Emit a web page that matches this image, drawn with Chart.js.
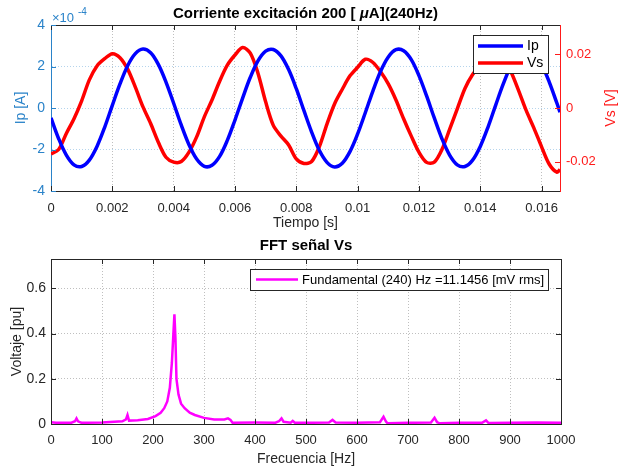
<!DOCTYPE html>
<html lang="es">
<head>
<meta charset="UTF-8">
<title>Corriente excitación 200 uA (240Hz)</title>
<script src="https://cdn.jsdelivr.net/npm/chart.js"></script>
<style>
  body { margin: 0; background: #fff; }
  #wrap { position: relative; width: 621px; height: 469px; }
  canvas { position: absolute; left: 0; }
</style>
</head>
<body>
<div id="wrap">
  <canvas id="senal" width="621" height="232" style="top:0"></canvas>
  <canvas id="fft" width="621" height="237" style="top:232px"></canvas>
</div>
<script>
// --- datos ---
const tiempo = [0, 0.00025, 0.0005, 0.00075, 0.001, 0.00125, 0.0015, 0.00175, 0.002, 0.00225,
  0.0025, 0.00275, 0.003, 0.00325, 0.0035, 0.00375, 0.004, 0.00425, 0.0045, 0.00475,
  0.005, 0.00525, 0.0055, 0.00575, 0.006, 0.00625, 0.0065, 0.00675, 0.007, 0.00725,
  0.0075, 0.00775, 0.008, 0.00825, 0.0085, 0.00875, 0.009, 0.00925, 0.0095, 0.00975,
  0.01, 0.01025, 0.0105, 0.01075, 0.011, 0.01125, 0.0115, 0.01175, 0.012, 0.01225,
  0.0125, 0.01275, 0.013, 0.01325, 0.0135, 0.01375, 0.014, 0.01425, 0.0145, 0.01475,
  0.015, 0.01525, 0.0155, 0.01575, 0.016, 0.01625, 0.0165, 0.0166];

// Ip en unidades de 1e-4 A
const ip = [-0.48, -1.48, -2.27, -2.74, -2.82, -2.51, -1.85, -0.93, 0.13, 1.16,
  2.04, 2.62, 2.84, 2.66, 2.10, 1.25, 0.23, -0.83, -1.77, -2.46,
  -2.81, -2.76, -2.33, -1.56, -0.58, 0.48, 1.48, 2.27, 2.74, 2.82,
  2.51, 1.85, 0.93, -0.13, -1.16, -2.04, -2.62, -2.84, -2.66, -2.10,
  -1.25, -0.23, 0.83, 1.77, 2.46, 2.81, 2.76, 2.33, 1.56, 0.58,
  -0.48, -1.48, -2.27, -2.74, -2.82, -2.51, -1.85, -0.93, 0.13, 1.16,
  2.04, 2.62, 2.84, 2.66, 2.10, 1.25, 0.23, -0.20];

// Vs en V
const vs = [-0.0172, -0.0155, -0.0095, -0.0040, 0.0027, 0.0105, 0.0157, 0.0184, 0.0203, 0.0188,
  0.0145, 0.0078, 0.0004, -0.0058, -0.0128, -0.0184, -0.0202, -0.0200, -0.0165, -0.0108,
  -0.0033, 0.0030, 0.0100, 0.0160, 0.0198, 0.0226, 0.0205, 0.0130, 0.0023, -0.0065,
  -0.0105, -0.0138, -0.0190, -0.0207, -0.0200, -0.0145, -0.0060, 0.0016, 0.0070, 0.0120,
  0.0152, 0.0182, 0.0170, 0.0135, 0.0090, 0.0030, -0.0040, -0.0105, -0.0165, -0.0203,
  -0.0202, -0.0155, -0.0080, -0.0003, 0.0073, 0.0125, 0.0160, 0.0200, 0.0215, 0.0185,
  0.0135, 0.0065, -0.0010, -0.0075, -0.0145, -0.0210, -0.0240, -0.0230];

const tiempoTicks = [0, 0.002, 0.004, 0.006, 0.008, 0.01, 0.012, 0.014, 0.016];
const ipTicks = [-4, -2, 0, 2, 4];
const vsTicks = [-0.02, 0, 0.02];

const frecuencia = [0, 10, 40, 47, 50, 53, 60, 100, 140, 147, 150, 153, 170, 190, 205, 215, 222, 228, 233, 237,
  240, 242, 244, 246, 250, 255, 262, 272, 282, 300, 320, 340, 347, 352, 356, 400, 440, 447, 452, 456,
  470, 474, 478, 500, 545, 552, 558, 600, 645, 652, 657, 660, 700, 745, 752, 757, 762, 800, 845, 853,
  858, 900, 953, 1000];
const voltaje = [0.008, 0.006, 0.006, 0.012, 0.025, 0.012, 0.005, 0.007, 0.012, 0.020, 0.040, 0.015, 0.017, 0.022, 0.035, 0.050, 0.070, 0.100, 0.160, 0.270,
  0.400, 0.485, 0.380, 0.200, 0.130, 0.090, 0.070, 0.050, 0.040, 0.027, 0.020, 0.020, 0.025, 0.018, 0.006, 0.007, 0.006, 0.012, 0.025, 0.010,
  0.006, 0.014, 0.006, 0.005, 0.007, 0.018, 0.007, 0.006, 0.008, 0.032, 0.010, 0.003, 0.005, 0.007, 0.028, 0.008, 0.003, 0.005, 0.005, 0.016,
  0.004, 0.005, 0.007, 0.005];
const frecTicks = [0, 100, 200, 300, 400, 500, 600, 700, 800, 900, 1000];
const voltTicks = [0, 0.2, 0.4, 0.6];

const FUENTE = '"Liberation Sans", Arial, Helvetica, sans-serif';
const GRIS = '#262626';
const AZUL_EJE = '#2a83c9';
const ROJO_EJE = '#ff1a1a';

Chart.defaults.font.family = FUENTE;
Chart.defaults.font.size = 13;
Chart.defaults.color = GRIS;

function fijarTicks(lista) {
  return s => { s.ticks = lista.map(v => ({ value: v })); };
}
function numero(v) {
  return v === 0 ? '0' : String(+v.toFixed(4));
}
function rotado(ctx, txt, x, y, color) {
  ctx.save();
  ctx.translate(x, y);
  ctx.rotate(-Math.PI / 2);
  ctx.fillStyle = color;
  ctx.textAlign = 'center';
  ctx.textBaseline = 'middle';
  ctx.fillText(txt, 0, 0);
  ctx.restore();
}
function linea(ctx, x1, y1, x2, y2, color, w) {
  ctx.beginPath();
  ctx.moveTo(x1, y1);
  ctx.lineTo(x2, y2);
  ctx.strokeStyle = color;
  ctx.lineWidth = w;
  ctx.stroke();
}
// titulo con partes de distinta fuente, centrado
function titulo(ctx, partes, cx, y) {
  let total = 0;
  partes.forEach(p => { ctx.font = p[1]; total += ctx.measureText(p[0]).width; });
  let x = cx - total / 2;
  ctx.fillStyle = '#000';
  ctx.textAlign = 'left';
  ctx.textBaseline = 'middle';
  partes.forEach(p => { ctx.font = p[1]; ctx.fillText(p[0], x, y); x += ctx.measureText(p[0]).width; });
}

// --- grafico superior ---
const textosSenal = {
  id: 'textosSenal',
  afterDraw(chart) {
    const ctx = chart.ctx, a = chart.chartArea;
    const sx = chart.scales.x, sI = chart.scales.yI, sV = chart.scales.yV;
    ctx.save();
    // borde superior y marcas interiores
    linea(ctx, a.left, a.top + 0.5, a.right, a.top + 0.5, GRIS, 1);
    tiempoTicks.forEach(v => {
      const px = Math.round(sx.getPixelForValue(v)) + 0.5;
      linea(ctx, px, a.bottom, px, a.bottom - 5, GRIS, 1);
      linea(ctx, px, a.top, px, a.top + 5, GRIS, 1);
    });
    ipTicks.forEach(v => {
      const py = Math.round(sI.getPixelForValue(v)) + 0.5;
      linea(ctx, a.left, py, a.left + 5, py, AZUL_EJE, 1);
    });
    vsTicks.forEach(v => {
      const py = Math.round(sV.getPixelForValue(v)) + 0.5;
      linea(ctx, a.right, py, a.right - 5, py, ROJO_EJE, 1);
    });
    // titulos
    const cx = (a.left + a.right) / 2;
    titulo(ctx, [['Corriente excitación 200 [ ', 'bold 15px ' + FUENTE], ['μ', 'italic bold 15px ' + FUENTE], ['A](240Hz)', 'bold 15px ' + FUENTE]], cx, 14);
    ctx.font = '14px ' + FUENTE;
    ctx.fillStyle = GRIS;
    ctx.textAlign = 'center';
    ctx.textBaseline = 'middle';
    ctx.fillText('Tiempo [s]', cx, 223);
    rotado(ctx, 'Ip [A]', 21, (a.top + a.bottom) / 2, AZUL_EJE);
    rotado(ctx, 'Vs [V]', 611, (a.top + a.bottom) / 2, ROJO_EJE);
    // exponente
    ctx.fillStyle = AZUL_EJE;
    ctx.textAlign = 'left';
    ctx.font = '13px ' + FUENTE;
    ctx.fillText('×10', a.left + 1, 18);
    ctx.font = '10px ' + FUENTE;
    ctx.fillText('-4', a.left + 27, 12);
    // leyenda
    ctx.fillStyle = '#fff';
    ctx.fillRect(473, 35, 75, 38);
    ctx.strokeStyle = GRIS;
    ctx.lineWidth = 1;
    ctx.strokeRect(473.5, 35.5, 75, 38);
    linea(ctx, 478, 46, 523, 46, '#0000ff', 3.5);
    linea(ctx, 478, 63, 523, 63, '#ff0000', 3.5);
    ctx.fillStyle = '#000';
    ctx.font = '14px ' + FUENTE;
    ctx.textBaseline = 'middle';
    ctx.fillText('Ip', 527, 46);
    ctx.fillText('Vs', 527, 63);
    ctx.restore();
  }
};

new Chart(document.getElementById('senal'), {
  type: 'line',
  data: {
    datasets: [
      {
        label: 'Ip',
        data: tiempo.map((t, i) => ({ x: t, y: ip[i] })),
        yAxisID: 'yI',
        borderColor: '#0000ff',
        borderWidth: 3.5,
        pointRadius: 0,
        tension: 0.35
      },
      {
        label: 'Vs',
        data: tiempo.map((t, i) => ({ x: t, y: vs[i] })),
        yAxisID: 'yV',
        borderColor: '#ff0000',
        borderWidth: 3.5,
        pointRadius: 0,
        tension: 0.3
      }
    ]
  },
  options: {
    responsive: false,
    animation: false,
    layout: { padding: { top: 25 } },
    plugins: { legend: { display: false }, tooltip: { enabled: false } },
    scales: {
      x: {
        type: 'linear',
        min: 0,
        max: 0.0166,
        afterBuildTicks: fijarTicks(tiempoTicks),
        afterFit: s => { s.height = 41; },
        ticks: { padding: 10, autoSkip: false, maxRotation: 0, callback: numero, color: GRIS },
        grid: { color: 'rgba(0,0,0,0.25)', drawTicks: false },
        border: { color: GRIS, width: 1, dash: [1, 2] }
      },
      yI: {
        type: 'linear',
        position: 'left',
        min: -4,
        max: 4,
        afterBuildTicks: fijarTicks(ipTicks),
        afterFit: s => { s.width = 51; },
        ticks: { padding: 6, color: AZUL_EJE, font: { size: 14 }, callback: v => String(v) },
        grid: { color: 'rgba(42,131,201,0.35)', drawTicks: false },
        border: { color: AZUL_EJE, width: 1, dash: [1, 2] }
      },
      yV: {
        type: 'linear',
        position: 'right',
        min: -0.031,
        max: 0.031,
        afterBuildTicks: fijarTicks(vsTicks),
        afterFit: s => { s.width = 61; },
        ticks: { padding: 6, color: ROJO_EJE, callback: numero },
        grid: { display: false, drawTicks: false },
        border: { color: ROJO_EJE, width: 1 }
      }
    }
  },
  plugins: [textosSenal]
});

// --- grafico inferior (FFT) ---
const textosFFT = {
  id: 'textosFFT',
  afterDraw(chart) {
    const ctx = chart.ctx, a = chart.chartArea;
    const sx = chart.scales.x, sy = chart.scales.y;
    ctx.save();
    ctx.strokeStyle = GRIS;
    ctx.lineWidth = 1;
    ctx.strokeRect(a.left + 0.5, a.top + 0.5, a.right - a.left, a.bottom - a.top);
    frecTicks.forEach(v => {
      const px = Math.round(sx.getPixelForValue(v)) + 0.5;
      linea(ctx, px, a.bottom, px, a.bottom - 5, GRIS, 1);
      linea(ctx, px, a.top, px, a.top + 5, GRIS, 1);
    });
    voltTicks.forEach(v => {
      const py = Math.round(sy.getPixelForValue(v)) + 0.5;
      linea(ctx, a.left, py, a.left + 5, py, GRIS, 1);
      linea(ctx, a.right, py, a.right - 5, py, GRIS, 1);
    });
    const cx = (a.left + a.right) / 2;
    titulo(ctx, [['FFT señal Vs', 'bold 15px ' + FUENTE]], cx, 14);
    ctx.font = '14px ' + FUENTE;
    ctx.fillStyle = GRIS;
    ctx.textAlign = 'center';
    ctx.textBaseline = 'middle';
    ctx.fillText('Frecuencia [Hz]', cx, 227);
    rotado(ctx, 'Voltaje [pu]', 17, (a.top + a.bottom) / 2, GRIS);
    // leyenda
    ctx.fillStyle = '#fff';
    ctx.fillRect(250, 37, 298, 21);
    ctx.strokeStyle = GRIS;
    ctx.strokeRect(250.5, 37.5, 298, 21);
    linea(ctx, 256, 47.5, 298, 47.5, '#ff00ff', 2.5);
    ctx.fillStyle = '#000';
    ctx.font = '13px ' + FUENTE;
    ctx.textAlign = 'left';
    ctx.fillText('Fundamental (240) Hz =11.1456 [mV rms]', 302, 48);
    ctx.restore();
  }
};

new Chart(document.getElementById('fft'), {
  type: 'line',
  data: {
    datasets: [{
      label: 'Fundamental (240) Hz =11.1456 [mV rms]',
      data: frecuencia.map((f, i) => ({ x: f, y: voltaje[i] })),
      borderColor: '#ff00ff',
      borderWidth: 2.5,
      pointRadius: 0,
      tension: 0
    }]
  },
  options: {
    responsive: false,
    animation: false,
    layout: { padding: { top: 27, right: 60 } },
    plugins: { legend: { display: false }, tooltip: { enabled: false } },
    scales: {
      x: {
        type: 'linear',
        min: 0,
        max: 1000,
        afterBuildTicks: fijarTicks(frecTicks),
        afterFit: s => { s.height = 45; },
        ticks: { padding: 9, autoSkip: false, maxRotation: 0, color: GRIS, callback: v => String(v) },
        grid: { color: 'rgba(0,0,0,0.25)', drawTicks: false },
        border: { color: GRIS, width: 1, dash: [1, 2] }
      },
      y: {
        type: 'linear',
        min: 0,
        max: 0.73,
        afterBuildTicks: fijarTicks(voltTicks),
        afterFit: s => { s.width = 51; },
        ticks: { padding: 5, color: GRIS, font: { size: 14 }, callback: numero },
        grid: { color: 'rgba(0,0,0,0.25)', drawTicks: false },
        border: { color: GRIS, width: 1, dash: [1, 2] }
      }
    }
  },
  plugins: [textosFFT]
});
</script>
</body>
</html>
